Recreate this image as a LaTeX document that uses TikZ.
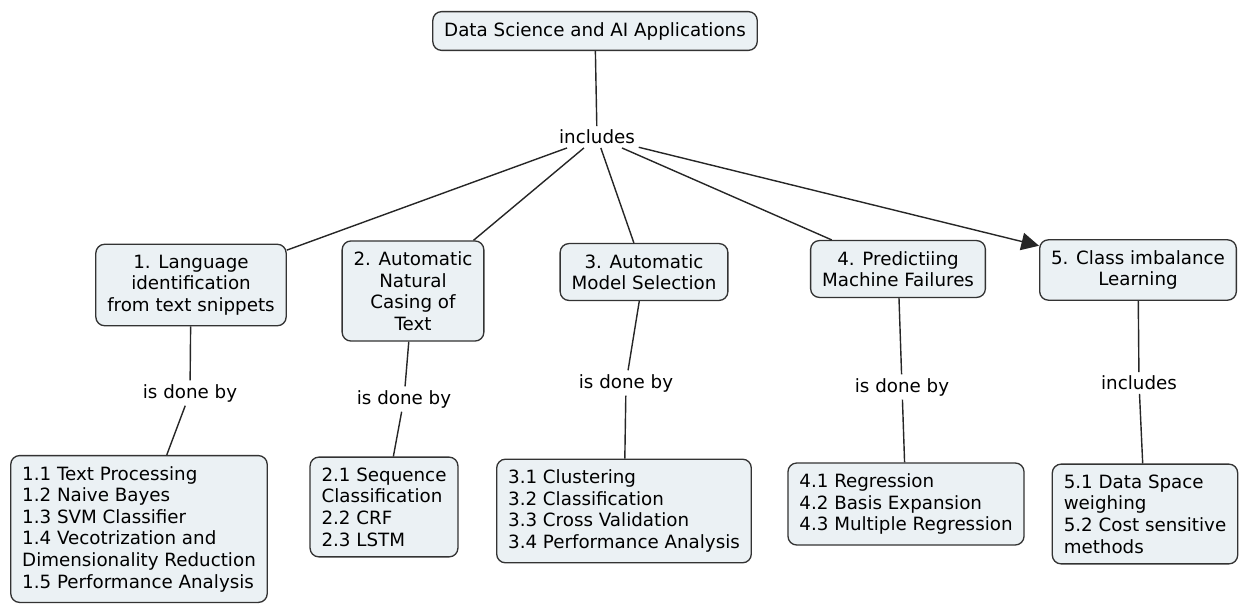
\documentclass[tikz,border=0pt]{standalone}
\usepackage{fontspec}
\setmainfont{DejaVu Sans}
\usetikzlibrary{arrows.meta,positioning}
\definecolor{cfill}{HTML}{EBF1F4}

\begin{document}
\begin{tikzpicture}[
  x=0.02cm, y=-0.02cm,
  font=\fontsize{10.4}{12.3}\selectfont,
  concept/.style={draw=black!80, fill=cfill, rounded corners=5pt, line width=0.75pt,
                  align=center, inner xsep=6.5pt, inner ysep=6pt},
  items/.style={concept, align=left},
  linkword/.style={inner sep=2pt},
  link/.style={draw=black!85, line width=0.8pt},
]
\useasboundingbox (0,0) rectangle (1243,605);

% --- root ---
\node[concept] (root) at (595,31) {Data Science and AI Applications};
\node[linkword] (inc) at (597,137) {includes};

% --- applications ---
\node[concept] (a1) at (191,285) {1. Language\\identification\\from text snippets};
\node[concept] (a2) at (413,291) {2. Automatic\\Natural\\Casing of\\Text};
\node[concept] (a3) at (644,272) {3. Automatic\\Model Selection};
\node[concept] (a4) at (898,269) {4. Predictiing\\Machine Failures};
\node[concept] (a5) at (1138,270) {5. Class imbalance\\Learning};

% --- linking phrases ---
\node[linkword] (l1) at (190,393) {is done by};
\node[linkword] (l2) at (404,399) {is done by};
\node[linkword] (l3) at (626,383) {is done by};
\node[linkword] (l4) at (902,387) {is done by};
\node[linkword] (l5) at (1139,383) {includes};

% --- methods ---
\node[items] (m1) at (139,529) {1.1 Text Processing\\1.2 Naive Bayes\\1.3 SVM Classifier\\1.4 Vecotrization and\\Dimensionality Reduction\\1.5 Performance Analysis};
\node[items] (m2) at (384,507) {2.1 Sequence\\Classification\\2.2 CRF\\2.3 LSTM};
\node[items] (m3) at (624,511) {3.1 Clustering\\3.2 Classification\\3.3 Cross Validation\\3.4 Performance Analysis};
\node[items] (m4) at (906,504) {4.1 Regression\\4.2 Basis Expansion\\4.3 Multiple Regression};
\node[items] (m5) at (1145,514) {5.1 Data Space\\weighing\\5.2 Cost sensitive\\methods};

% --- connections ---
\draw[link] (root) -- (inc);
\foreach \a in {a1,a2,a3,a4} {
  \draw[link] (inc) -- (\a);
}
\draw[link, -{Triangle[length=10pt, width=10pt]}] (inc) -- (a5);
\foreach \i in {1,...,5} {
  \draw[link] (a\i) -- (l\i) -- (m\i);
}

\end{tikzpicture}
\end{document}
